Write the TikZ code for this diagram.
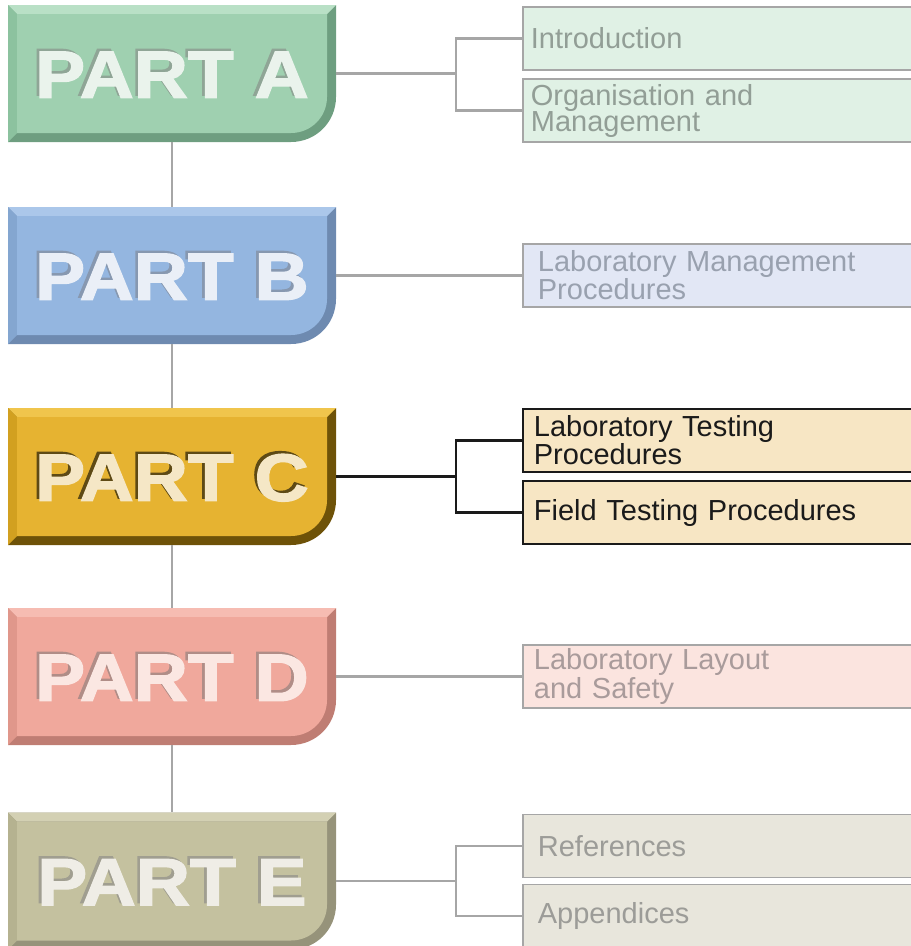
\documentclass[tikz,border=0pt]{standalone}
\usepackage{fontspec}
\setmainfont{Liberation Sans}
\newfontfamily\partfont[FakeBold=1.8]{Liberation Sans Bold}
\usepackage{graphicx}
\usetikzlibrary{positioning}

% part block colours
\definecolor{Aface}{HTML}{9FD0B0}
\definecolor{Atop}{HTML}{B9E0C6}
\definecolor{Aleft}{HTML}{8CC29F}
\definecolor{Adark}{HTML}{6E9E80}
\definecolor{Aink}{HTML}{EAF3EC}
\definecolor{Ashade}{HTML}{8FA596}
\definecolor{Bface}{HTML}{94B6E0}
\definecolor{Btop}{HTML}{ABC7EA}
\definecolor{Bleft}{HTML}{84A6D0}
\definecolor{Bdark}{HTML}{6E8AB0}
\definecolor{Bink}{HTML}{EAEFF7}
\definecolor{Bshade}{HTML}{8798B0}
\definecolor{Cface}{HTML}{E6B331}
\definecolor{Ctop}{HTML}{F0C54C}
\definecolor{Cleft}{HTML}{D2A020}
\definecolor{Cdark}{HTML}{6E5208}
\definecolor{Cink}{HTML}{F5E7C6}
\definecolor{Cshade}{HTML}{5E4A15}
\definecolor{Dface}{HTML}{F0A89C}
\definecolor{Dtop}{HTML}{F6BCB2}
\definecolor{Dleft}{HTML}{E0978B}
\definecolor{Ddark}{HTML}{BF7D73}
\definecolor{Dink}{HTML}{FBE7E2}
\definecolor{Dshade}{HTML}{B08D87}
\definecolor{Eface}{HTML}{C4C19F}
\definecolor{Etop}{HTML}{D3D0B3}
\definecolor{Eleft}{HTML}{B5B290}
\definecolor{Edark}{HTML}{96937A}
\definecolor{Eink}{HTML}{EFEDE6}
\definecolor{Eshade}{HTML}{A09E90}
% topic box colours
\definecolor{Abox}{HTML}{E0F1E5}
\definecolor{Atext}{HTML}{929E96}
\definecolor{Bbox}{HTML}{E2E7F5}
\definecolor{Btext}{HTML}{99A1AF}
\definecolor{Cbox}{HTML}{F7E6C4}
\definecolor{Dbox}{HTML}{FBE4DF}
\definecolor{Dtext}{HTML}{A99B9B}
\definecolor{Ebox}{HTML}{E8E6DC}
\definecolor{Etext}{HTML}{9C9C98}
\definecolor{linegray}{HTML}{A6A6A6}
\definecolor{inkblack}{HTML}{1A1A1A}

% engraved title: shade copy up-left, face copy on top
\newcommand{\engraved}[2]{\rlap{\kern-2.5pt\raisebox{2.5pt}{\textcolor{#2}{#1}}}#1}

\begin{document}
\begin{tikzpicture}[x=1pt, y=-1pt]
  \tikzset{parttitle/.style={rectangle, minimum width=328pt, minimum height=137pt, inner sep=0pt, font=\partfont\fontsize{67}{67}\selectfont},
    topic/.style={rectangle, draw=linegray, line width=1.8pt, anchor=west, minimum width=392pt, minimum height=63pt, text width=376pt, inner xsep=8pt, inner ysep=0pt, align=left, font=\fontsize{29}{26}\selectfont},
    link/.style={draw=linegray, line width=2.3pt}}
  \useasboundingbox (0,0) rectangle (911,946);

  % bevelled part blocks
  \foreach \p/\t in {A/5, B/207, C/408, D/608, E/812.5} {
    \fill[fill=\p dark] (8,\t) -- (336,\t) -- (336,\t+92) .. controls (336,\t+117) and (316,\t+137) .. (291,\t+137) -- (8,\t+137) -- cycle;
    \fill[fill=\p top] (8,\t) -- (336,\t) -- (327,\t+9) -- (17,\t+9) -- cycle;
    \fill[fill=\p left] (8,\t) -- (17,\t+9) -- (17,\t+128) -- (8,\t+137) -- cycle;
    \fill[fill=\p face] (17,\t+9) -- (327,\t+9) -- (327,\t+92) .. controls (327,\t+112) and (311,\t+128) .. (291,\t+128) -- (17,\t+128) -- cycle;
    \node[parttitle, text=\p ink] (part\p) at (172,\t+68.5) {\scalebox{1.12}[1]{\engraved{PART \p}{\p shade}}};
  }

  % topics
  \node[topic, fill=Abox, text=Atext] (intro) at (522,38.5) {Introduction};
  \node[topic, fill=Abox, text=Atext] (organisation) at (522,110.5) {Organisation and\\Management};
  \node[topic, fill=Bbox, text=Btext, inner xsep=15pt, text width=362pt] (labmanage) at (522,275.5) {Laboratory Management\\Procedures};
  \node[topic, fill=Cbox, text=inkblack, draw=inkblack, inner xsep=11pt, text width=370pt] (labtest) at (522,440.5) {Laboratory Testing\\Procedures};
  \node[topic, fill=Cbox, text=inkblack, draw=inkblack, inner xsep=11pt, text width=370pt] (fieldtest) at (522,512.5) {Field Testing Procedures};
  \node[topic, fill=Dbox, text=Dtext, inner xsep=11pt, text width=370pt] (layout) at (522,676.5) {Laboratory Layout\\and Safety};
  \node[topic, fill=Ebox, text=Etext, inner xsep=15pt, text width=362pt] (references) at (522,846) {References};
  \node[topic, fill=Ebox, text=Etext, inner xsep=15pt, text width=362pt] (appendices) at (522,916) {Appendices};

  % spine
  \draw[link] (partA.south) -- (partB.north);
  \draw[link] (partB.south) -- (partC.north);
  \draw[link] (partC.south) -- (partD.north);
  \draw[link] (partD.south) -- (partE.north);

  % branches
  \coordinate (forkA) at (456,73.5);
  \coordinate (forkC) at (456,476.5);
  \coordinate (forkE) at (456,881);
  \draw[link] (partA.east) -- (forkA);
  \draw[link] (intro.west) -| (forkA) |- (organisation.west);
  \draw[link] (partB.east) -- (labmanage.west);
  \draw[link, draw=inkblack] (partC.east) -- (forkC);
  \draw[link, draw=inkblack] (labtest.west) -| (forkC) |- (fieldtest.west);
  \draw[link] (partD.east) -- (layout.west);
  \draw[link] (partE.east) -- (forkE);
  \draw[link] (references.west) -| (forkE) |- (appendices.west);
\end{tikzpicture}
\end{document}
